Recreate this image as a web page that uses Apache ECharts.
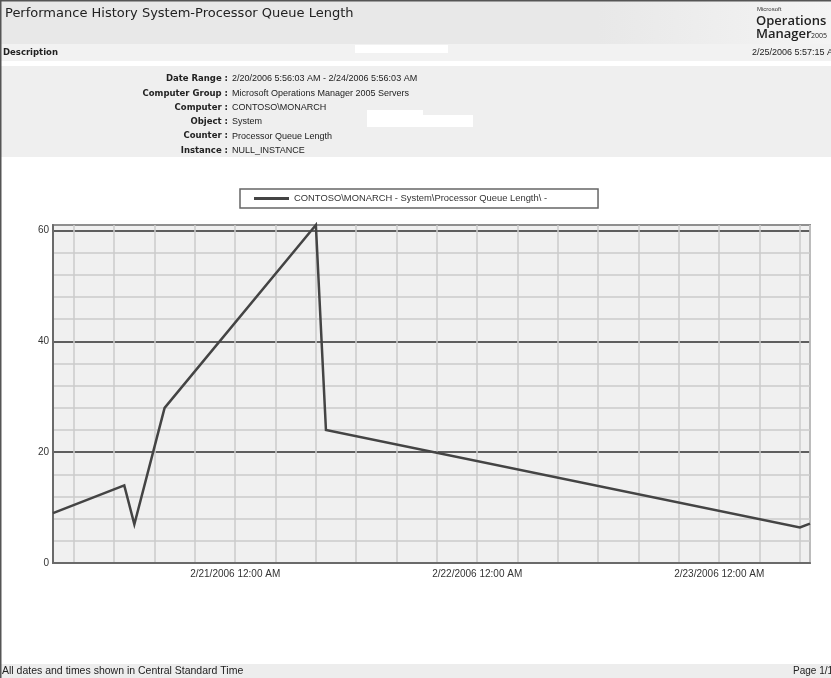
<!DOCTYPE html>
<html>
<head>
<meta charset="utf-8">
<title>Performance History System-Processor Queue Length</title>
<script src="https://cdn.jsdelivr.net/npm/echarts@6/dist/echarts.min.js"></script>
<style>
  html, body { margin: 0; padding: 0; background: #ffffff; }
  #report { width: 831px; height: 678px; }
</style>
</head>
<body>
<div id="report"></div>
<script>
// Sample times and processor queue length readings
const sampleTimes = [
  '2006-02-20 05:56', '2006-02-20 13:00', '2006-02-20 14:00', '2006-02-20 17:00',
  '2006-02-21 08:00', '2006-02-21 09:00', '2006-02-23 08:00', '2006-02-23 09:00'
];
const queueLength = [9, 14, 7, 28, 61, 24, 6.4, 7.1];

const seriesName = 'CONTOSO\\MONARCH - System\\Processor Queue Length\\ -';

// Report header fields
const fieldLabels = ['Date Range :', 'Computer Group :', 'Computer :', 'Object :', 'Counter :', 'Instance :'];
const fieldValues = [
  '2/20/2006 5:56:03 AM - 2/24/2006 5:56:03 AM',
  'Microsoft Operations Manager 2005 Servers',
  'CONTOSO\\MONARCH',
  'System',
  'Processor Queue Length',
  'NULL_INSTANCE'
];
const reportTitle = 'Performance History System-Processor Queue Length';
const generatedAt = '2/25/2006 5:57:15 AM';
const footerNote = 'All dates and times shown in Central Standard Time';
const pageLabel = 'Page 1/1';

const HOUR = 3600 * 1000;
const axisFont = '"Liberation Sans", Arial, sans-serif';

function pad2(n) { return n < 10 ? '0' + n : '' + n; }
function formatStamp(ms) {
  const d = new Date(ms);
  let h = d.getHours();
  const ampm = h < 12 ? 'AM' : 'PM';
  h = h % 12; if (h === 0) h = 12;
  return (d.getMonth() + 1) + '/' + d.getDate() + '/' + d.getFullYear() + ' ' + h + ':' + pad2(d.getMinutes()) + ' ' + ampm;
}

const chart = echarts.init(document.getElementById('report'), null, { renderer: 'canvas' });

// Report chrome: header bands, field block, footer
const graphics = [
  {
    type: 'rect', z: 0, shape: { x: 0, y: 0, width: 831, height: 44 }, silent: true,
    style: { fill: new echarts.graphic.LinearGradient(0, 0, 1, 0, [
      { offset: 0, color: '#e8e8e8' }, { offset: 0.72, color: '#e8e8e8' }, { offset: 1, color: '#f4f4f4' }
    ]) }
  },
  { type: 'rect', z: 0, shape: { x: 0, y: 44, width: 831, height: 17 }, style: { fill: '#f2f2f2' }, silent: true },
  { type: 'rect', z: 0, shape: { x: 0, y: 66, width: 831, height: 91 }, style: { fill: '#efefef' }, silent: true },
  { type: 'rect', z: 0, shape: { x: 0, y: 664, width: 831, height: 14 }, style: { fill: '#ededed' }, silent: true },
  { type: 'rect', z: 1, shape: { x: 355, y: 45, width: 93, height: 8 }, style: { fill: '#ffffff' }, silent: true },
  { type: 'rect', z: 1, shape: { x: 367, y: 110, width: 56, height: 6 }, style: { fill: '#ffffff' }, silent: true },
  { type: 'rect', z: 1, shape: { x: 367, y: 115, width: 106, height: 12 }, style: { fill: '#ffffff' }, silent: true },
  { type: 'rect', z: 2, shape: { x: 0, y: 0, width: 831, height: 1.5 }, style: { fill: '#555555' }, silent: true },
  { type: 'rect', z: 2, shape: { x: 0, y: 0, width: 1.5, height: 678 }, style: { fill: '#555555' }, silent: true },
  { type: 'text', z: 3, x: 5, y: 14, style: { text: reportTitle, font: '13px "DejaVu Sans", Verdana, sans-serif', fill: '#222', verticalAlign: 'middle' } },
  { type: 'text', z: 3, x: 757, y: 9, style: { text: 'Microsoft', font: '6px "Liberation Sans", Arial, sans-serif', fill: '#333', verticalAlign: 'middle' } },
  { type: 'text', z: 3, x: 756, y: 21, style: { text: 'Operations', font: '600 13px "Open Sans", sans-serif', fill: '#222', verticalAlign: 'middle' } },
  { type: 'text', z: 3, x: 756, y: 34, style: { text: 'Manager', font: '600 13px "Open Sans", sans-serif', fill: '#222', verticalAlign: 'middle' } },
  { type: 'text', z: 3, x: 811, y: 36, style: { text: '2005', font: '7px "Open Sans", sans-serif', fill: '#222', verticalAlign: 'middle' } },
  { type: 'text', z: 3, x: 3, y: 53, style: { text: 'Description', font: 'bold 8.5px "DejaVu Sans", Tahoma, sans-serif', fill: '#222', verticalAlign: 'middle' } },
  { type: 'text', z: 3, x: 752, y: 53, style: { text: generatedAt, font: '9px "Liberation Sans", Arial, sans-serif', fill: '#222', verticalAlign: 'middle' } },
  { type: 'text', z: 3, x: 2, y: 671, style: { text: footerNote, font: '10.5px "Liberation Sans", Arial, sans-serif', fill: '#222', verticalAlign: 'middle' } },
  { type: 'text', z: 3, x: 793, y: 671, style: { text: pageLabel, font: '10px "Liberation Sans", Arial, sans-serif', fill: '#222', verticalAlign: 'middle' } }
];
fieldLabels.forEach(function (label, i) {
  const rowY = 79 + i * 14.3;
  graphics.push({ type: 'text', z: 3, x: 228, y: rowY, style: { text: label, font: 'bold 8.5px "DejaVu Sans", Tahoma, sans-serif', fill: '#222', align: 'right', verticalAlign: 'middle' } });
  graphics.push({ type: 'text', z: 3, x: 232, y: rowY, style: { text: fieldValues[i], font: '9px "Liberation Sans", Arial, sans-serif', fill: '#222', verticalAlign: 'middle' } });
});

const option = {
  backgroundColor: '#ffffff',
  animation: false,
  graphic: graphics,
  legend: {
    data: [seriesName],
    left: 240,
    top: 189,
    padding: [5, 51, 5, 14],
    borderColor: '#666',
    borderWidth: 1.5,
    icon: 'rect',
    itemWidth: 35,
    itemHeight: 3,
    textStyle: { fontFamily: axisFont, fontSize: 9.4, color: '#333', width: 253, overflow: 'none' }
  },
  grid: {
    left: 53, right: 21, top: 225, bottom: 115,
    show: true,
    backgroundColor: '#f0f0f0',
    borderColor: '#8f8f8f',
    borderWidth: 2
  },
  xAxis: {
    type: 'time',
    min: sampleTimes[0],
    max: sampleTimes[sampleTimes.length - 1],
    minInterval: 4 * HOUR,
    maxInterval: 4 * HOUR,
    axisLine: { show: true, lineStyle: { color: '#6a6a6a', width: 2 } },
    axisTick: { show: false },
    splitLine: { show: true, lineStyle: { color: '#cbcbcb', width: 1.5 } },
    axisLabel: {
      color: '#333',
      fontFamily: axisFont,
      fontSize: 10,
      margin: 6,
      showMinLabel: false,
      showMaxLabel: false,
      hideOverlap: false,
      formatter: function (value) {
        const d = new Date(value);
        return (d.getHours() === 0 && d.getMinutes() === 0) ? formatStamp(value) : '';
      }
    }
  },
  yAxis: [
    {
      // minor grid every 4 units
      type: 'value', min: 0, max: 61, interval: 4,
      axisLine: { show: true, lineStyle: { color: '#6a6a6a', width: 2 } },
      axisTick: { show: false },
      axisLabel: { show: false },
      splitLine: { show: true, lineStyle: { color: '#cbcbcb', width: 1.5 } }
    },
    {
      // major grid and labels every 20 units
      type: 'value', min: 0, max: 61, interval: 20, position: 'left',
      axisLine: { show: false },
      axisTick: { show: false },
      axisLabel: {
        color: '#333', fontFamily: axisFont, fontSize: 10, margin: 4,
        formatter: function (v) { return v % 20 === 0 ? String(v) : ''; }
      },
      splitLine: { show: true, lineStyle: { color: ['#5e5e5e', '#5e5e5e', '#5e5e5e', '#5e5e5e', '#8f8f8f'], width: 2 } }
    }
  ],
  series: [{
    name: seriesName,
    type: 'line',
    yAxisIndex: 1,
    symbol: 'none',
    clip: false,
    z: 10,
    color: '#444444',
    lineStyle: { color: '#444444', width: 2.5, join: 'miter' },
    data: sampleTimes.map(function (t, i) { return [t, queueLength[i]]; })
  }]
};

chart.setOption(option);
</script>
</body>
</html>
